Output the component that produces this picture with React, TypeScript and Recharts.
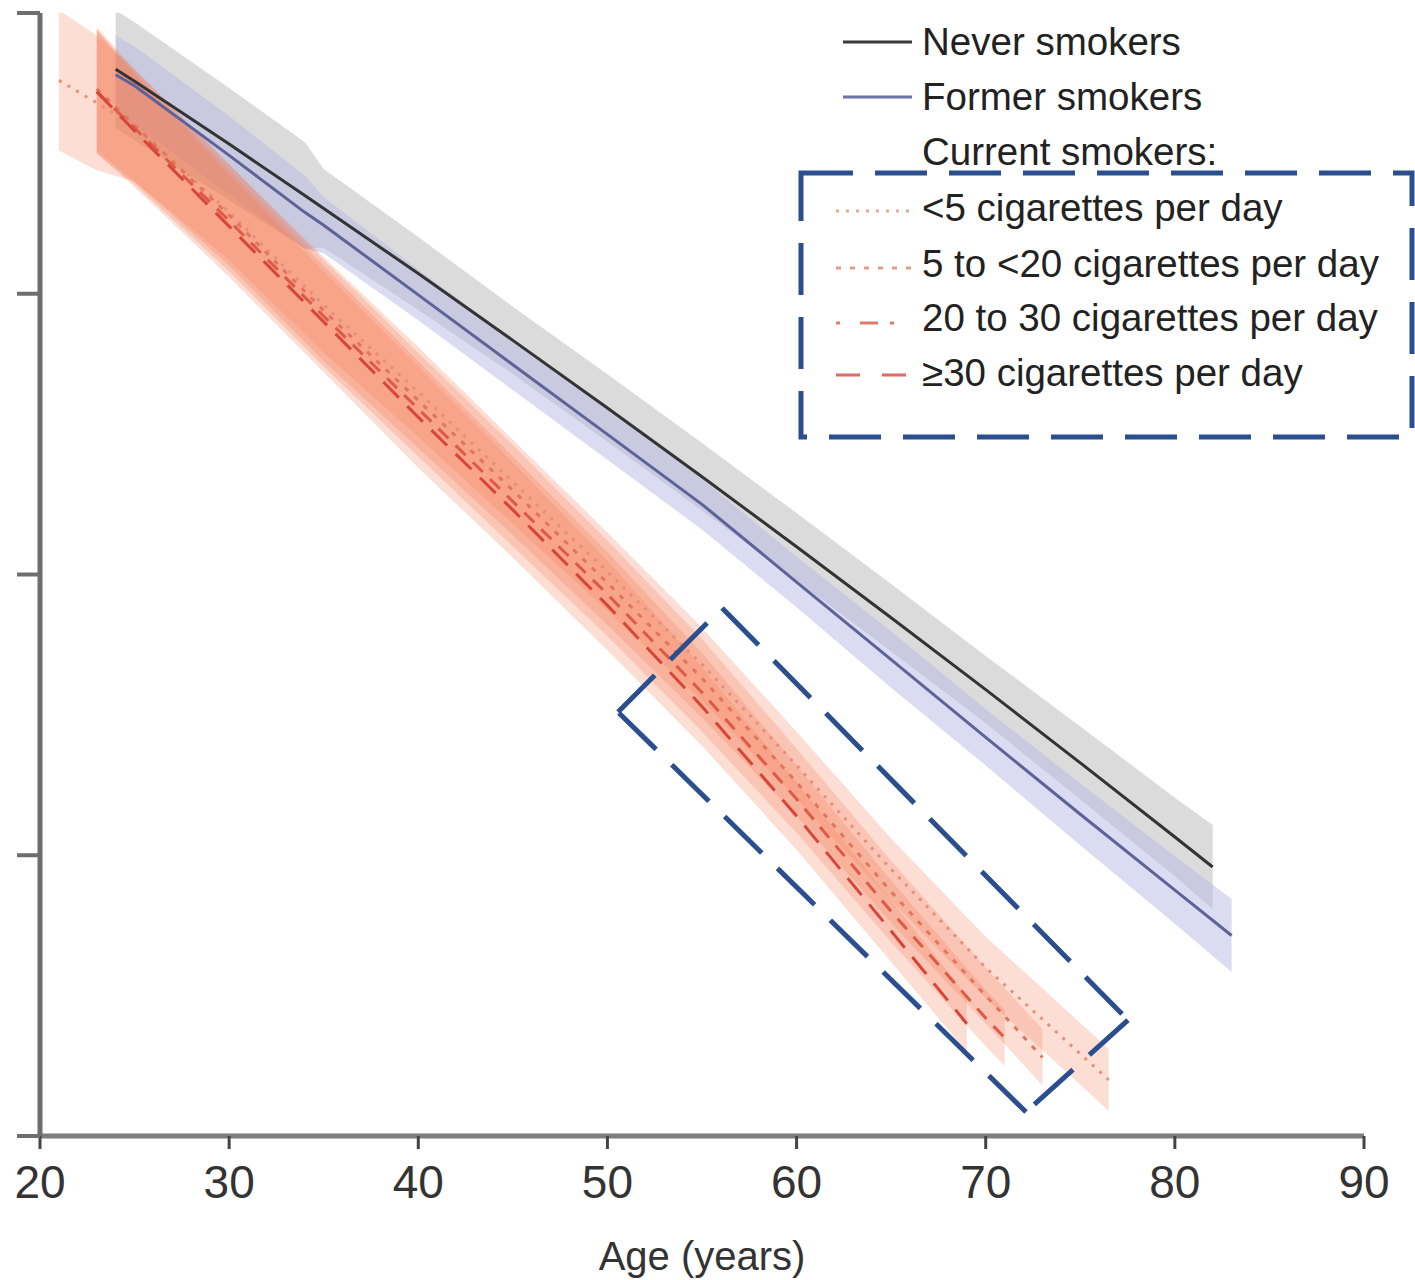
import {
  ComposedChart,
  Area,
  Line,
  XAxis,
  YAxis,
  ReferenceLine,
} from 'recharts'
import { JSX } from 'react'

const FONT = "'Liberation Sans', Arial, sans-serif"

// never smokers
const neverAges = [24, 25, 30, 34, 35, 40, 45, 50, 55, 60, 65, 70, 75, 80, 82]
const neverVals = [3.8, 3.757, 3.533, 3.35, 3.304, 3.072, 2.834, 2.593, 2.348, 2.099, 1.846, 1.59, 1.329, 1.065, 0.958]
const neverHalf = [0.21, 0.21, 0.2, 0.19, 0.14, 0.13, 0.12, 0.12, 0.12, 0.12, 0.12, 0.12, 0.13, 0.14, 0.15]

// former smokers
const formerAges = [24, 25, 30, 34, 35, 40, 45, 50, 55, 60, 65, 70, 75, 80, 83]
const formerVals = [3.78, 3.741, 3.493, 3.29, 3.244, 2.996, 2.747, 2.499, 2.25, 1.973, 1.697, 1.42, 1.146, 0.876, 0.714]
const formerHalf = [0.14, 0.14, 0.14, 0.13, 0.1, 0.09, 0.09, 0.09, 0.09, 0.09, 0.1, 0.1, 0.11, 0.12, 0.13]

// current smokers
const lt5Ages = [21, 23, 25, 30, 35, 40, 45, 50, 55, 60, 65, 70, 76.5]
const lt5Vals = [3.76, 3.68, 3.6, 3.29, 2.96, 2.65, 2.33, 2.01, 1.68, 1.32, 0.95, 0.6, 0.2]
const lt5Half = [0.25, 0.24, 0.2, 0.17, 0.17, 0.16, 0.15, 0.14, 0.13, 0.12, 0.11, 0.11, 0.11]

const c5to20Ages = [23, 25, 30, 35, 40, 45, 50, 55, 60, 65, 70, 73]
const c5to20Vals = [3.73, 3.6, 3.28, 2.94, 2.62, 2.3, 1.97, 1.63, 1.26, 0.87, 0.5, 0.28]
const c5to20Half = [0.22, 0.2, 0.18, 0.18, 0.17, 0.16, 0.15, 0.14, 0.12, 0.11, 0.1, 0.1]

const c20to30Ages = [23, 25, 30, 35, 40, 45, 50, 55, 60, 65, 70, 71]
const c20to30Vals = [3.72, 3.59, 3.26, 2.92, 2.59, 2.26, 1.93, 1.58, 1.2, 0.8, 0.42, 0.35]
const c20to30Half = [0.22, 0.2, 0.18, 0.18, 0.17, 0.16, 0.15, 0.14, 0.12, 0.11, 0.1, 0.1]

const c30Ages = [23, 25, 30, 35, 40, 45, 50, 55, 60, 65, 69]
const c30Vals = [3.72, 3.58, 3.24, 2.9, 2.56, 2.23, 1.89, 1.53, 1.14, 0.73, 0.4]
const c30Half = [0.22, 0.2, 0.18, 0.18, 0.18, 0.17, 0.16, 0.14, 0.12, 0.11, 0.1]

// dashed highlight box around the late current-smoker curves (age, value)
const boxAges = [56.06, 77.52, 72.13, 50.56]
const boxVals = [1.881, 0.413, 0.0855, 1.51]

const xTicks = [20, 30, 40, 50, 60, 70, 80, 90]
const yTicks = [0, 1, 2, 3, 4]

const build = (ages: number[], vals: number[], half: number[]) =>
  ages.map((age, i) => ({ age, v: vals[i], band: [vals[i] - half[i], vals[i] + half[i]] }))

const neverData = build(neverAges, neverVals, neverHalf)
const formerData = build(formerAges, formerVals, formerHalf)
const lt5Data = build(lt5Ages, lt5Vals, lt5Half)
const c5to20Data = build(c5to20Ages, c5to20Vals, c5to20Half)
const c20to30Data = build(c20to30Ages, c20to30Vals, c20to30Half)
const c30Data = build(c30Ages, c30Vals, c30Half)

const BLUE = '#2b4e8e'
const ORANGE = '#f47a55'

const boxEdges = boxAges.map((a, i) => {
  const j = (i + 1) % boxAges.length
  return [
    { x: a, y: boxVals[i] },
    { x: boxAges[j], y: boxVals[j] },
  ]
})

const smokerSeries = [
  { name: '<5 cigarettes per day', data: lt5Data, color: '#e58f7c', dash: '3 7' },
  { name: '5 to <20 cigarettes per day', data: c5to20Data, color: '#e27462', dash: '5 8' },
  { name: '20 to 30 cigarettes per day', data: c20to30Data, color: '#de5a48', dash: '14 10' },
  { name: '≥30 cigarettes per day', data: c30Data, color: '#d9443a', dash: '22 12' },
]

const NoLabel = (): JSX.Element => <g />

const LegendOverlay = (): JSX.Element => {
  const textStyle = { fontFamily: FONT, fontSize: 38.5, fill: '#222' }
  return (
    <svg
      width={1415}
      height={450}
      style={{ position: 'absolute', left: 0, top: 0, pointerEvents: 'none' }}
    >
      <line x1={843} x2={912} y1={42} y2={42} stroke="#3a3a3a" strokeWidth={3} />
      <text x={922} y={55} {...textStyle}>Never smokers</text>
      <line x1={843} x2={912} y1={97} y2={97} stroke="#6d72a6" strokeWidth={3} />
      <text x={922} y={110} {...textStyle}>Former smokers</text>
      <text x={922} y={165} {...textStyle}>Current smokers:</text>
      <line x1={836} x2={912} y1={211} y2={211} stroke="#eaa797" strokeWidth={3} strokeDasharray="3 7" />
      <text x={922} y={221} {...textStyle}>{smokerSeries[0].name}</text>
      <line x1={836} x2={912} y1={268} y2={268} stroke="#e59a8c" strokeWidth={3} strokeDasharray="5 9" />
      <text x={922} y={277} {...textStyle}>{smokerSeries[1].name}</text>
      <line x1={836} x2={912} y1={323} y2={323} stroke="#e07b6b" strokeWidth={3} strokeDasharray="4 20 18 12" />
      <text x={922} y={331} {...textStyle}>{smokerSeries[2].name}</text>
      <line x1={836} x2={912} y1={375} y2={375} stroke="#e06a66" strokeWidth={3} strokeDasharray="24 22" />
      <text x={922} y={386} {...textStyle}>{smokerSeries[3].name}</text>
      <rect x={801} y={173} width={611} height={264} fill="none" stroke={BLUE} strokeWidth={5} strokeDasharray="52 22" />
    </svg>
  )
}

const App = (): JSX.Element => {
  return (
    <div style={{ position: 'absolute', left: 0, top: 0, width: 1415, height: 1280, background: '#fff' }}>
      <ComposedChart width={1415} height={1280} margin={{ top: 13, right: 51, left: 0, bottom: 0 }}>
        <XAxis
          type="number"
          dataKey="age"
          domain={[20, 90]}
          ticks={xTicks}
          allowDataOverflow
          height={144}
          axisLine={{ stroke: '#7d7d7d', strokeWidth: 5 }}
          tickLine={{ stroke: '#444', strokeWidth: 3 }}
          tickSize={13}
          tickMargin={16}
          tick={{ fontSize: 46, fill: '#333', fontFamily: FONT }}
          label={{ value: 'Age (years)', position: 'insideBottom', offset: 10, fontSize: 40, fill: '#333', fontFamily: FONT }}
        />
        <YAxis
          type="number"
          domain={[0, 4]}
          ticks={yTicks}
          width={40}
          allowDataOverflow
          axisLine={{ stroke: '#6e6e6e', strokeWidth: 5 }}
          tickLine={{ stroke: '#6e6e6e', strokeWidth: 4 }}
          tickSize={23}
          tick={NoLabel}
        />
        <Area data={neverData} dataKey="band" type="linear" stroke="none" fill="#bdbdbd" fillOpacity={0.55} isAnimationActive={false} activeDot={false} />
        <Area data={formerData} dataKey="band" type="linear" stroke="none" fill="#b7b8e4" fillOpacity={0.5} isAnimationActive={false} activeDot={false} />
        {smokerSeries.map((s) => (
          <Area key={'b' + s.name} data={s.data} dataKey="band" type="linear" stroke="none" fill={ORANGE} fillOpacity={0.25} isAnimationActive={false} activeDot={false} />
        ))}
        <Line data={neverData} dataKey="v" type="linear" stroke="#333" strokeWidth={3} dot={false} activeDot={false} isAnimationActive={false} />
        <Line data={formerData} dataKey="v" type="linear" stroke="#5d6299" strokeWidth={3} dot={false} activeDot={false} isAnimationActive={false} />
        {smokerSeries.map((s) => (
          <Line key={'l' + s.name} data={s.data} dataKey="v" type="linear" stroke={s.color} strokeWidth={3} strokeDasharray={s.dash} dot={false} activeDot={false} isAnimationActive={false} />
        ))}
        {boxEdges.map((seg, i) => (
          <ReferenceLine key={'e' + i} segment={seg} stroke={BLUE} strokeWidth={5} strokeDasharray="52 22" ifOverflow="visible" />
        ))}
      </ComposedChart>
      <LegendOverlay />
    </div>
  )
}

export default App
